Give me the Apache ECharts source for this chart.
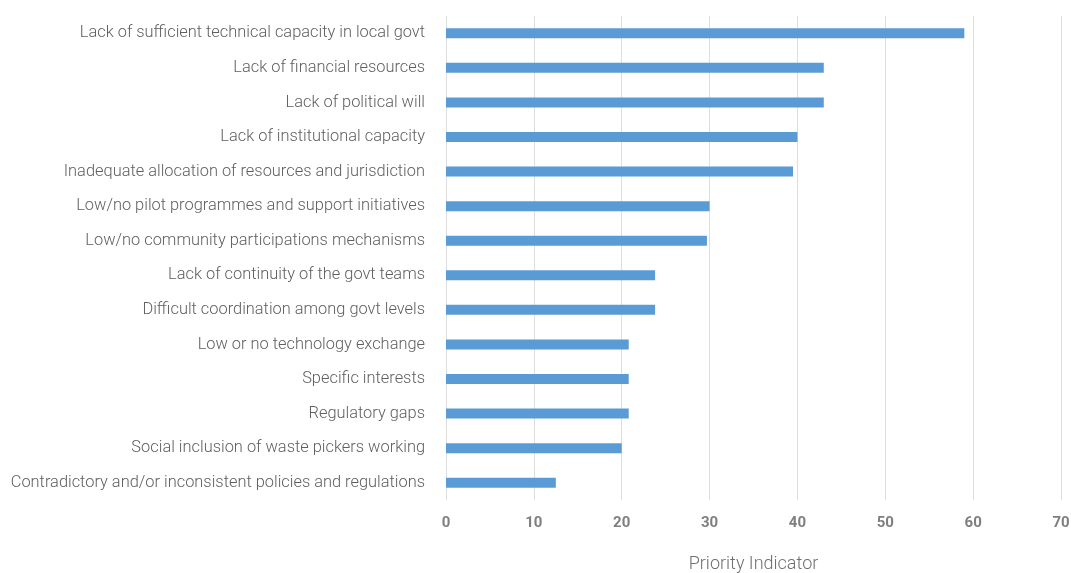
<!DOCTYPE html>
<html>
<head>
<meta charset="utf-8">
<script src="https://cdn.jsdelivr.net/npm/echarts@6/dist/echarts.min.js"></script>
<style>
html,body{margin:0;padding:0;background:#fff;}
#chart{width:1071px;height:573px;}
</style>
</head>
<body>
<div id="chart"></div>
<script>
var categories = [
  "Lack of sufficient technical capacity in local govt",
  "Lack of financial resources",
  "Lack of political will",
  "Lack of institutional capacity",
  "Inadequate allocation of resources and jurisdiction",
  "Low/no pilot programmes and support initiatives",
  "Low/no community participations mechanisms",
  "Lack of continuity of the govt teams",
  "Difficult coordination among govt levels",
  "Low or no technology exchange",
  "Specific interests",
  "Regulatory gaps",
  "Social inclusion of waste pickers working",
  "Contradictory and/or inconsistent policies and regulations"
];
var values = [59, 43, 43, 40, 39.5, 30, 29.7, 23.8, 23.8, 20.8, 20.8, 20.8, 20, 12.5];
var xTicks = [0, 10, 20, 30, 40, 50, 60, 70];

var chart = echarts.init(document.getElementById('chart'));
chart.setOption({
  animation: false,
  backgroundColor: '#ffffff',
  grid: { left: 446, right: 10, top: 16, bottom: 73, containLabel: false, outerBoundsMode: 'none' },
  xAxis: {
    type: 'value',
    min: xTicks[0],
    max: xTicks[xTicks.length - 1],
    interval: 10,
    name: 'Priority Indicator',
    nameLocation: 'middle',
    nameGap: 55,
    nameTextStyle: { fontFamily: 'Roboto', fontSize: 18, fontWeight: 300, color: '#6f6f6f' },
    axisLine: { show: false },
    axisTick: { show: false },
    axisLabel: { fontFamily: 'Roboto', fontSize: 15, fontWeight: 'bold', color: '#7f7f7f', margin: 16 },
    splitLine: { show: true, lineStyle: { color: '#dedede', width: 1 } }
  },
  yAxis: {
    type: 'category',
    data: categories,
    inverse: true,
    axisLine: { show: false },
    axisTick: { show: false },
    axisLabel: { fontFamily: 'Roboto', fontSize: 16.4, fontWeight: 300, color: '#5f5f5f', margin: 21 }
  },
  series: [{
    type: 'bar',
    data: values,
    barWidth: 10,
    itemStyle: { color: '#5b9bd5' }
  }]
});
</script>
</body>
</html>
